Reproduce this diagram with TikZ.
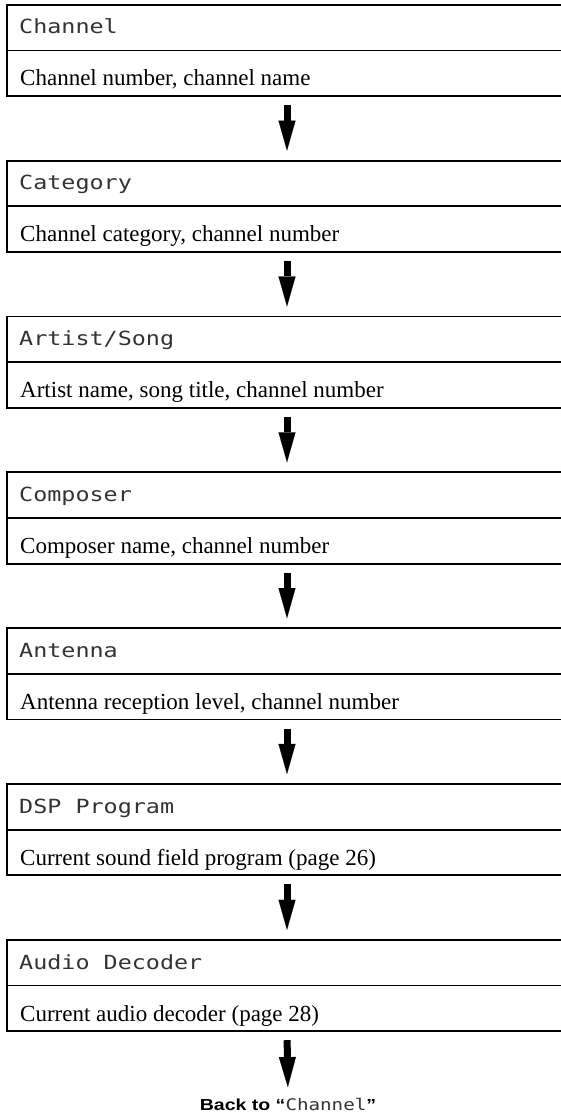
\documentclass[tikz,border=0pt]{standalone}
\usepackage{fontspec}
\setmainfont{Liberation Serif}
\newfontfamily\lcd{DejaVu Sans Mono}[FakeStretch=1.2]
\newfontfamily\helv{Liberation Sans}[FakeStretch=1.22]
\usetikzlibrary{arrows.meta}
\tikzset{
 panel/.style={minimum width=560pt, minimum height=91pt, inner sep=0pt, draw=none},
 headtxt/.style={anchor=base west, inner sep=0pt, font=\lcd\fontsize{19.5}{20}\selectfont, text=black!80},
 bodytxt/.style={anchor=base west, inner sep=0pt, font=\fontsize{23}{23}\selectfont},
 frame/.style={line width=1.8pt},
 flow/.style={line width=7pt, -{Triangle[length=30pt,width=17pt,line width=0.1pt]}, shorten <=9pt, shorten >=10pt},
}
\newcommand{\panelframe}[1]{%
 \draw[frame] (#1.north east) -- (#1.north west) -- (#1.south west) -- (#1.south east);
 \draw[frame] (#1.west) -- (#1.east);}
\begin{document}
\begin{tikzpicture}[x=1pt,y=-1pt]
\useasboundingbox (0,0) rectangle (561,1115);

\node[panel] (b1) at (287,50.5) {};
\panelframe{b1}
\node[headtxt] (h1) at (19,34) {Channel};
\node[bodytxt] (t1) at (20,86) {Channel number, channel name};

\node[panel] (b2) at (287,206.33) {};
\panelframe{b2}
\node[headtxt] (h2) at (19,189.83) {Category};
\node[bodytxt] (t2) at (20,241.83) {Channel category, channel number};

\node[panel] (b3) at (287,362.17) {};
\panelframe{b3}
\node[headtxt] (h3) at (19,345.67) {Artist/Song};
\node[bodytxt] (t3) at (20,397.67) {Artist name, song title, channel number};

\node[panel] (b4) at (287,518) {};
\panelframe{b4}
\node[headtxt] (h4) at (19,501.5) {Composer};
\node[bodytxt] (t4) at (20,553.5) {Composer name, channel number};

\node[panel] (b5) at (287,673.83) {};
\panelframe{b5}
\node[headtxt] (h5) at (19,657.33) {Antenna};
\node[bodytxt] (t5) at (20,709.33) {Antenna reception level, channel number};

\node[panel] (b6) at (287,829.67) {};
\panelframe{b6}
\node[headtxt] (h6) at (19,813.17) {DSP Program};
\node[bodytxt] (t6) at (20,865.17) {Current sound field program (page 26)};

\node[panel] (b7) at (287,985.5) {};
\panelframe{b7}
\node[headtxt] (h7) at (19,969) {Audio Decoder};
\node[bodytxt] (t7) at (20,1021) {Current audio decoder (page 28)};

\node[anchor=base, inner sep=0pt, font=\helv\bfseries\fontsize{16}{17}\selectfont] (back) at (288,1110.5)
 {Back to “{\lcd\mdseries\fontsize{16}{17}\selectfont\color{black!80}Channel}”};

\draw[flow] (b1.south) -- (b2.north);
\draw[flow] (b2.south) -- (b3.north);
\draw[flow] (b3.south) -- (b4.north);
\draw[flow] (b4.south) -- (b5.north);
\draw[flow] (b5.south) -- (b6.north);
\draw[flow] (b6.south) -- (b7.north);
\draw[flow, shorten >=11pt] (b7.south) -- (back.north);
\end{tikzpicture}
\end{document}
